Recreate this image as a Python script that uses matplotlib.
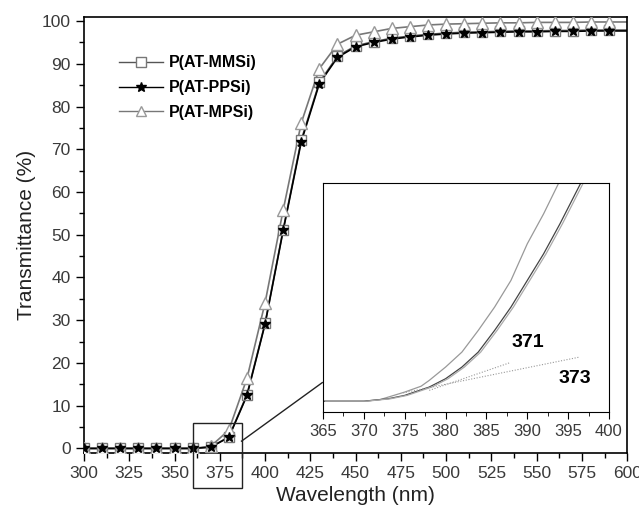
import numpy as np
import matplotlib
matplotlib.use("Agg")
import matplotlib.pyplot as plt
from matplotlib.patches import Rectangle
from matplotlib.ticker import MultipleLocator

plt.rcParams['font.family'] = ['Liberation Sans', 'DejaVu Sans']

# main spectra, sampled every 10 nm (marker positions)
wl = [300, 310, 320, 330, 340, 350, 360, 370, 380, 390, 400, 410, 420, 430, 440,
      450, 460, 470, 480, 490, 500, 510, 520, 530, 540, 550, 560, 570, 580, 590, 600]
mmsi = [0, 0, 0, 0, 0, 0, 0, 0.3, 2.7, 12.6, 29.3, 51.2, 72.2, 85.7, 91.8,
        94.2, 95.2, 96.0, 96.5, 96.9, 97.2, 97.4, 97.5, 97.6, 97.7, 97.7, 97.8, 97.8, 97.9, 97.9, 97.9]
ppsi = [0, 0, 0, 0, 0, 0, 0, 0.3, 2.6, 12.4, 29.1, 51.0, 71.8, 85.4, 91.5,
        94.0, 95.0, 95.8, 96.3, 96.7, 97.0, 97.2, 97.3, 97.4, 97.5, 97.5, 97.6, 97.6, 97.7, 97.7, 97.7]
mpsi = [0, 0, 0, 0, 0, 0, 0, 0.5, 4.3, 16.4, 34.1, 55.8, 76.2, 88.9, 94.6,
        96.7, 97.5, 98.3, 98.7, 99.1, 99.3, 99.4, 99.5, 99.6, 99.6, 99.7, 99.7, 99.7, 99.8, 99.8, 99.8]

# inset: absorption edge region
ins_x_up = [365, 368, 370, 372, 375, 377, 378, 380, 382, 384, 386, 388, 390, 392, 393.8, 395]
ins_y_up = [0, 0, 0, 0.2, 1.1, 1.8, 2.5, 4.1, 5.9, 8.5, 11.3, 14.5, 18.9, 22.5, 26.1, 29]
ins_x_lo = [365, 368, 370, 371, 373, 375, 378, 380, 382, 384, 386, 388, 390, 392, 394, 396.5, 397.5]
ins_y_lo = [0, 0, 0, 0.1, 0.3, 0.7, 1.7, 2.7, 4.1, 5.9, 8.5, 11.3, 14.5, 17.7, 21.3, 26.1, 28]
tan1_x = [378.0, 387.8]
tan1_y = [1.3, 4.6]
tan2_x = [374.8, 396.4]
tan2_y = [1.0, 5.3]

fig = plt.figure(figsize=(6.39, 5.17), dpi=100)
ax = fig.add_axes([0.1315, 0.1244, 0.850, 0.843])

ax.plot(wl[:-1], mmsi[:-1], ls='none', marker='s', ms=7, mfc='white', mec='#777777', mew=1, zorder=3)
ax.plot(wl, mmsi, color='#555555', lw=1.2, zorder=2)
ax.plot(wl[:-1], mpsi[:-1], ls='none', marker='^', ms=8, mfc='white', mec='#999999', mew=1, zorder=3)
ax.plot(wl, mpsi, color='#777777', lw=1.2, zorder=2)
ax.plot(wl[:-1], ppsi[:-1], ls='none', marker='*', ms=7.5, color='black', zorder=4)
ax.plot(wl, ppsi, color='black', lw=1.2, zorder=2)

# legend handles
h1, = ax.plot([], [], color='#555555', marker='s', ms=6.5, mfc='white', mec='#777777', lw=1)
h2, = ax.plot([], [], color='black', marker='*', ms=7, lw=1)
h3, = ax.plot([], [], color='#777777', marker='^', ms=7.5, mfc='white', mec='#999999', lw=1)
ax.legend([h1, h2, h3], ['P(AT-MMSi)', 'P(AT-PPSi)', 'P(AT-MPSi)'],
          loc='upper left', bbox_to_anchor=(0.037, 0.945), frameon=False,
          prop={'weight': 'bold', 'size': 11.5}, handlelength=2.8,
          handletextpad=0.35, labelspacing=0.62)

ax.set_xlim(300, 600)
ax.set_ylim(-1, 101)
ax.xaxis.set_major_locator(MultipleLocator(25))
ax.xaxis.set_minor_locator(MultipleLocator(12.5))
ax.yaxis.set_major_locator(MultipleLocator(10))
ax.yaxis.set_minor_locator(MultipleLocator(5))
ax.tick_params(which='both', direction='out', top=False, right=False,
               labelsize=12.5, labelcolor='#3a3a3a')
ax.tick_params(which='major', length=6, width=1)
ax.tick_params(which='minor', length=3.5, width=1)
ax.set_xlabel('Wavelength (nm)', fontsize=15, color='#222222')
ax.set_ylabel('Transmittance (%)', fontsize=15, color='#222222')
for s in ax.spines.values():
    s.set_linewidth(1.2)

# zoom box and connector
ax.add_patch(Rectangle((360, -9.3), 27, 15.3, fill=False, ec='#222222', lw=1, clip_on=False, zorder=5))
ax.plot([387, 431.6], [1.7, 15.4], color='#222222', lw=1, zorder=5)

# inset
axi = fig.add_axes([0.5055, 0.203, 0.4475, 0.443])
axi.plot(ins_x_up, ins_y_up, color='#999999', lw=0.9)
axi.plot(ins_x_lo, ins_y_lo, color='#444444', lw=0.9)
axi.plot(np.array(ins_x_lo) + 0.3, ins_y_lo, color='#aaaaaa', lw=0.9)
axi.plot(tan1_x, tan1_y, color='#999999', lw=0.8, ls=(0, (1, 1.5)))
axi.plot(tan2_x, tan2_y, color='#999999', lw=0.8, ls=(0, (1, 1.5)))
axi.text(390.1, 7.1, '371', fontsize=14, weight='bold', ha='center', va='center')
axi.text(395.8, 2.7, '373', fontsize=14, weight='bold', ha='center', va='center')
axi.set_xlim(365, 400)
axi.set_ylim(-1.3, 26.2)
axi.xaxis.set_major_locator(MultipleLocator(5))
axi.xaxis.set_minor_locator(MultipleLocator(2.5))
axi.set_yticks([])
axi.tick_params(which='both', direction='out', labelsize=12, labelcolor='#3a3a3a')
axi.tick_params(which='major', length=5)
axi.tick_params(which='minor', length=3)

fig.savefig('out.png', dpi=100)
